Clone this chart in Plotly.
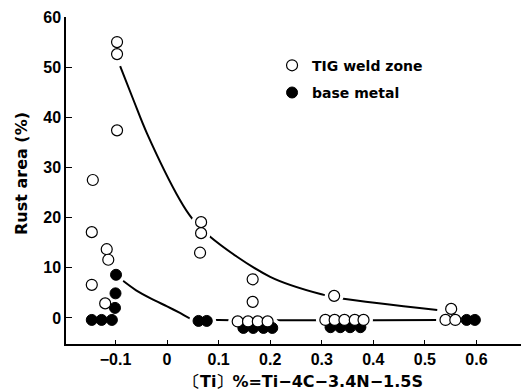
import plotly.graph_objects as go

# Open circles: TIG weld zone
tig_x = [-0.097, -0.097, -0.097, -0.144, -0.146, -0.117, -0.114, -0.146, -0.120,
         0.066, 0.066, 0.064, 0.166, 0.166,
         0.137, 0.157, 0.176, 0.195,
         0.324, 0.307, 0.325, 0.344, 0.364, 0.381,
         0.551, 0.540, 0.559]
tig_y = [55.0, 52.6, 37.4, 27.5, 17.1, 13.7, 11.6, 6.6, 2.9,
         19.1, 16.9, 13.0, 7.7, 3.2,
         -0.7, -0.7, -0.7, -0.7,
         4.4, -0.4, -0.4, -0.4, -0.4, -0.4,
         1.8, -0.4, -0.4]

# Filled circles: base metal
base_x = [-0.146, -0.127, -0.107, -0.101, -0.100, -0.099,
          0.061, 0.077,
          0.148, 0.167, 0.187, 0.204,
          0.317, 0.336, 0.355, 0.375,
          0.581, 0.597]
base_y = [-0.4, -0.4, -0.4, 2.0, 4.9, 8.6,
          -0.6, -0.6,
          -2.0, -2.0, -2.0, -2.0,
          -1.85, -1.85, -1.85, -1.85,
          -0.4, -0.4]

# Trend curves
tig_fit_x = [-0.091, -0.065, -0.039, 0.025, 0.048, 0.080, 0.200, 0.304, 0.342, 0.524]
tig_fit_y = [50.2, 43.4, 36.8, 23.5, 19.9, 16.5, 8.2, 4.6, 3.8, 1.6]
base_fit_x = [-0.088, -0.06, -0.03, 0.0, 0.025, 0.048, 0.10, 0.53]
base_fit_y = [7.6, 5.5, 3.8, 2.3, 1.0, -0.2, -0.4, -0.4]

x_ticks = [-0.1, 0, 0.1, 0.2, 0.3, 0.4, 0.5, 0.6]
x_tick_labels = ["−0.1", "0", "0.1", "0.2", "0.3", "0.4", "0.5", "0.6"]
y_ticks = [0, 10, 20, 30, 40, 50, 60]

x_title = "〔Ti〕%=Ti−4C−3.4N−1.5S"
y_title = "Rust area (%)"

fig = go.Figure()
fig.add_trace(go.Scatter(x=tig_fit_x, y=tig_fit_y, mode="lines", line=dict(color="black", width=2, shape="spline", smoothing=1),
                         showlegend=False, hoverinfo="skip"))
fig.add_trace(go.Scatter(x=base_fit_x, y=base_fit_y, mode="lines", line=dict(color="black", width=2, shape="spline", smoothing=0.8),
                         showlegend=False, hoverinfo="skip"))
# white halo so the lines break around markers
fig.add_trace(go.Scatter(x=tig_x + base_x, y=tig_y + base_y, mode="markers",
                         marker=dict(size=19, color="white", line=dict(width=0)),
                         showlegend=False, hoverinfo="skip"))
fig.add_trace(go.Scatter(x=base_x, y=base_y, mode="markers", name="base metal", legendgroup="b", legendrank=2,
                         marker=dict(size=11, color="black", line=dict(color="black", width=1))))
fig.add_trace(go.Scatter(x=tig_x, y=tig_y, mode="markers", name="TIG weld zone", legendgroup="a", legendrank=1,
                         marker=dict(size=11, color="white", line=dict(color="black", width=1.2))))

tickfont = dict(family="Liberation Sans, Arial, sans-serif", size=16, color="black", weight="bold")
titlefont = dict(family="DejaVu Sans, sans-serif", size=16, color="black", weight="bold")
# page body has an 8px margin: figure is 521x383 placed at (8, 8)
fig.update_layout(
    width=521, height=383,
    margin=dict(l=58, r=1, t=9, b=47),
    plot_bgcolor="white", paper_bgcolor="white",
    legend=dict(x=0.446, y=0.90, xanchor="left", yanchor="top", traceorder="grouped",
                tracegroupgap=6, bgcolor="rgba(0,0,0,0)",
                font=dict(family="DejaVu Sans, sans-serif", size=14, color="black", weight="bold")),
    xaxis=dict(range=[-0.196, 0.70], tickvals=x_ticks, ticktext=x_tick_labels, tickfont=tickfont,
               showgrid=False, zeroline=False, showline=True, linecolor="black", linewidth=1.5,
               ticks="inside", ticklen=4, tickcolor="black", automargin=False),
    yaxis=dict(range=[-5.2, 60], tickvals=y_ticks, tickfont=tickfont,
               showgrid=False, zeroline=False, showline=True, linecolor="black", linewidth=1.5,
               ticks="inside", ticklen=6, tickcolor="black", automargin=False),
    annotations=[
        dict(text=x_title, xref="paper", yref="paper", x=(303 - 66) / 462, y=-(381 - 344) / 327,
             xanchor="center", yanchor="middle", showarrow=False, font=titlefont),
        dict(text=y_title, xref="paper", yref="paper", x=-(66 - 21) / 462, y=(344 - 174) / 327,
             xanchor="center", yanchor="middle", showarrow=False, textangle=-90, font=titlefont),
    ],
)
fig.write_html("out.html")
